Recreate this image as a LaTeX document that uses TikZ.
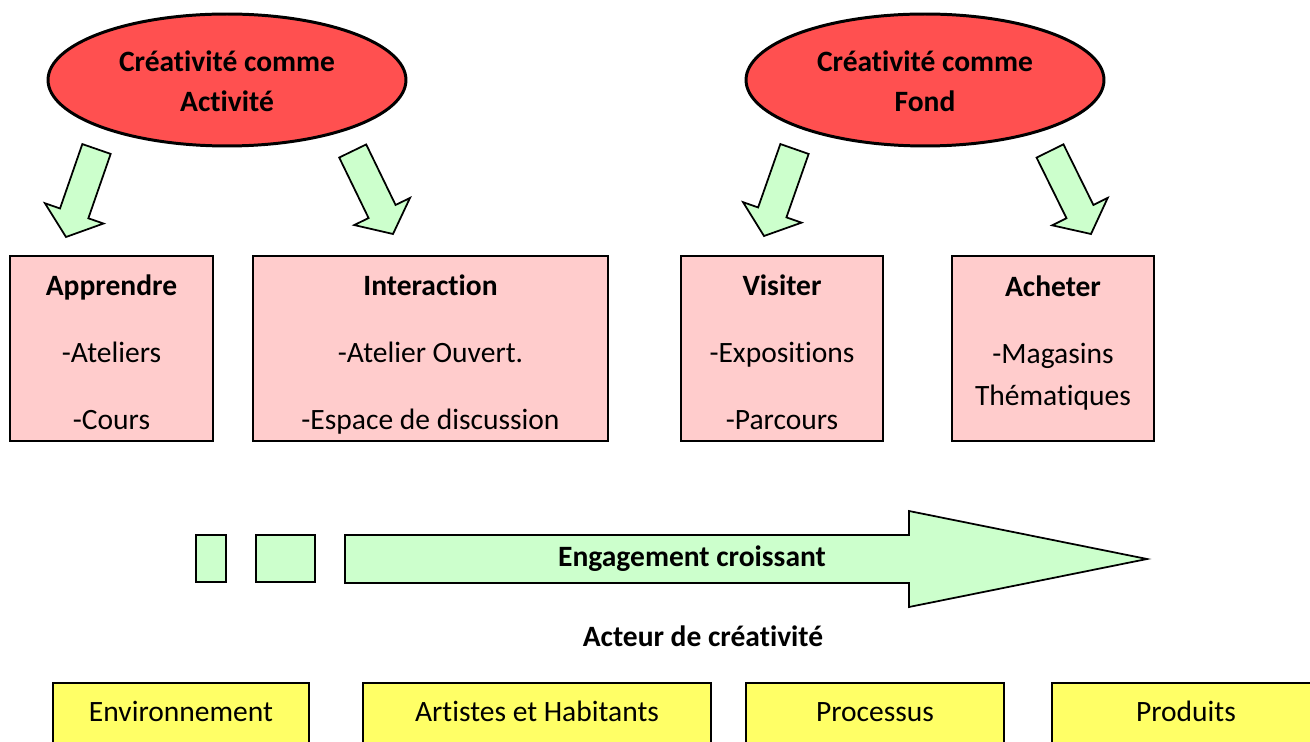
\documentclass[tikz,border=0pt]{standalone}
\usepackage{fontspec}
\setmainfont{Carlito}[Ligatures=NoCommon]
\usetikzlibrary{shapes.geometric,calc}
\definecolor{rouge}{HTML}{FF5050}
\definecolor{rose}{HTML}{FFCCCC}
\definecolor{vert}{HTML}{CCFFCC}
\definecolor{jaune}{HTML}{FFFF66}
\newcommand\etai{\rule[-4pt]{0pt}{24pt}}
\newcommand\etaib{\rule[-1pt]{0pt}{15pt}}
\begin{document}
\begin{tikzpicture}[x=0.02cm,y=-0.02cm,line join=miter,font=\fontsize{16.8}{20}\selectfont,
	bulle/.style={ellipse,draw,line width=1.7pt,fill=rouge,minimum width=7.16cm,minimum height=2.64cm,inner sep=0pt,align=center,font=\fontsize{16.8}{22.7}\selectfont\bfseries},
	cadre/.style={draw,line width=0.9pt,fill=rose,minimum height=3.7cm,inner sep=0pt,align=center,font=\fontsize{16.8}{38}\selectfont},
	acteur/.style={draw,line width=0.9pt,fill=jaune,minimum height=1.24cm,inner sep=0pt,text height=11.5pt,text depth=3pt},
	fleche/.style={draw,line width=1pt,fill=vert}]
	\useasboundingbox (0,0) rectangle (1310,742);
	% les deux bulles
	\node[bulle] (activite) at (227,80) {\etaib Créativité comme\\Activité\etaib};
	\node[bulle] (fond) at (925,80) {\etaib Créativité comme\\Fond\etaib};
	% les quatre cadres
	\node[cadre,minimum width=4.06cm] (apprendre) at (111.5,348.5) {\etai\textbf{Apprendre}\\-Ateliers\\-Cours\etai};
	\node[cadre,minimum width=7.1cm] (interaction) at (430.5,348.5) {\etai\textbf{Interaction}\\-Atelier Ouvert.\\-Espace de discussion\etai};
	\node[cadre,minimum width=4.04cm] (visiter) at (782,348.5) {\etai\textbf{Visiter}\\-Expositions\\-Parcours\etai};
	\node[cadre,minimum width=4.04cm] (acheter) at (1053,348.5) {\etai\textbf{Acheter}\\-Magasins\\[-13.6pt]Thématiques\\[-25pt]\etai};
	% fleches vertes
	\foreach \i/\a/\b/\c/\d in {1/96.5/149/66/237,2/352.7/151/393/234,3/794.5/149/764/236,4/1050/151/1091/234}{
		\coordinate (queue\i) at (\a,\b);
		\coordinate (pointe\i) at (\c,\d);
		\coordinate (cou\i) at ($(pointe\i)!0.5cm!(queue\i)$);
		\draw[fleche] ($(queue\i)!0.3cm!90:(pointe\i)$)--($(cou\i)!0.3cm!90:(pointe\i)$)--($(cou\i)!0.62cm!90:(pointe\i)$)--(pointe\i)
			--($(cou\i)!0.62cm!-90:(pointe\i)$)--($(cou\i)!0.3cm!-90:(pointe\i)$)--($(queue\i)!0.3cm!-90:(pointe\i)$)--cycle;
	}
	% engagement
	\node[fleche,inner sep=0pt,minimum width=0.6cm,minimum height=0.94cm] (pas1) at (211,558.5) {};
	\node[fleche,inner sep=0pt,minimum width=1.18cm,minimum height=0.94cm] (pas2) at (285.5,558.5) {};
	\draw[fleche] (345,535)--(909,535)--(909,511)--(1147,559)--(909,607)--(909,583)--(345,583)--cycle;
	\node (engagement) at (692,559) {\bfseries Engagement croissant};
	\node (titre) at (703,636) {\bfseries Acteur de créativité};
	% acteurs
	\foreach \x/\w/\t [count=\j] in {181/5.12/Environnement,537/6.96/Artistes et Habitants,875/5.16/Processus,1186/5.36/Produits}{
		\node[acteur,minimum width=\w cm] (acteur\j) at (\x,714) {\t};
	}
\end{tikzpicture}
\end{document}
